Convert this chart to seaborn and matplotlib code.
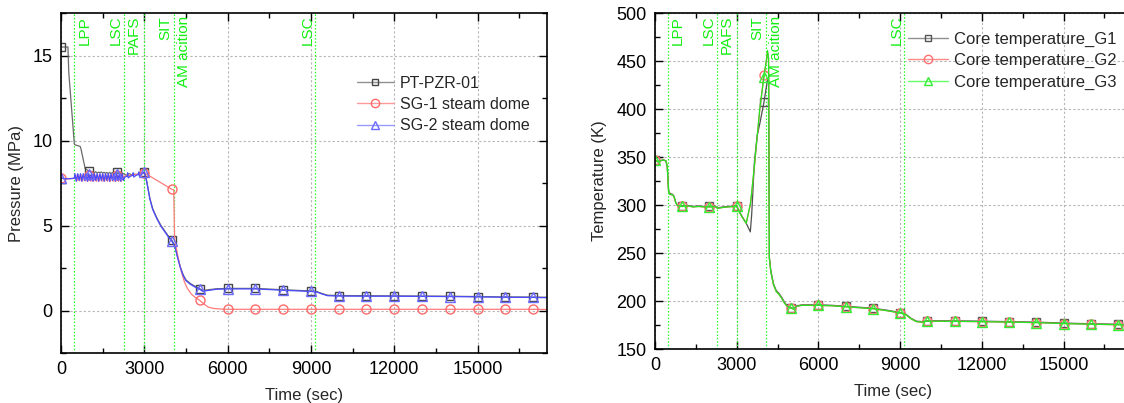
import numpy as np
import matplotlib
matplotlib.use("Agg")
import matplotlib.pyplot as plt
import matplotlib.transforms as mtransforms
from matplotlib.lines import Line2D
from matplotlib.ticker import MultipleLocator
import seaborn as sns

# ---------------- data ----------------
# Left panel: pressure (MPa) vs time (s)
t_pzr = [0, 250, 280, 480, 500, 690, 720, 870, 1000, 1100, 1150, 1200, 1250, 1300, 1350,
         1400, 1450, 1500, 1550, 1600, 1650, 1700, 1750, 1800, 1850, 1900, 1950, 2000,
         2050, 2100, 2150, 2200, 2250, 2350, 2450, 2550, 2650, 2750, 2850, 2950, 3000,
         3050, 3100, 3200, 3300, 3450, 3600, 3750, 3900, 4000, 4100, 4200, 4300, 4400,
         4500, 4650, 4800, 5000, 5100, 5300, 5600, 6000, 7000, 8000, 9000, 9200, 9400,
         9600, 10000, 11000, 12000, 13000, 14000, 15000, 16000, 17000, 17500]
p_pzr = [15.5, 15.5, 14.0, 9.8, 9.75, 9.65, 9.5, 8.35, 8.2, 8.12, 8.18, 8.1, 8.16, 8.08, 8.14,
         8.1, 8.15, 8.08, 8.13, 8.07, 8.12, 8.06, 8.12, 8.06, 8.11, 8.05, 8.1, 8.15,
         8.05, 8.1, 8.04, 8.09, 8.05, 7.95, 8.05, 7.98, 8.02, 8.0, 8.05, 8.1, 8.15,
         7.9, 7.5, 6.6, 6.0, 5.45, 5.0, 4.65, 4.3, 4.12, 3.8, 3.15, 2.55, 2.1,
         1.8, 1.6, 1.45, 1.28, 1.17, 1.22, 1.28, 1.3, 1.3, 1.22, 1.15, 1.12, 1.0,
         0.9, 0.88, 0.87, 0.86, 0.85, 0.84, 0.82, 0.8, 0.79, 0.78]

t_sg1 = [0, 100, 300, 480, 500, 525, 575, 625, 675, 725, 775, 825, 875, 925, 975, 1000,
         1025, 1075, 1125, 1175, 1225, 1275, 1325, 1375, 1425, 1475, 1525, 1575, 1625,
         1675, 1725, 1775, 1825, 1875, 1925, 1975, 2000, 2025, 2075, 2125, 2175, 2225,
         2250, 2300, 2500, 2700, 2900, 3000, 4000, 4060, 4090, 4150, 4250, 4350, 4450,
         4550, 4700, 4850, 5000, 5150, 5300, 5500, 5800, 6000, 7000, 8000, 9000, 10000,
         11000, 12000, 13000, 14000, 15000, 16000, 17000, 17500]
p_sg1 = [7.8, 7.75, 7.75, 7.78, 7.78, 7.98, 7.62, 7.98, 7.62, 7.98, 7.62, 7.98, 7.62, 7.98, 7.62, 7.95,
         7.98, 7.6, 7.98, 7.6, 7.98, 7.6, 7.98, 7.6, 7.98, 7.6, 7.98, 7.6, 7.98,
         7.6, 7.98, 7.6, 7.98, 7.6, 7.98, 7.6, 7.95, 7.98, 7.6, 7.98, 7.6, 7.98,
         7.8, 7.9, 7.95, 8.0, 8.05, 8.1, 7.12, 7.1, 4.2, 3.7, 2.85, 2.2, 1.65,
         1.3, 0.95, 0.75, 0.59, 0.38, 0.2, 0.12, 0.08, 0.07, 0.07, 0.07, 0.07, 0.07,
         0.07, 0.07, 0.07, 0.07, 0.07, 0.07, 0.07, 0.06]

t_sg2 = [0, 100, 300, 480, 500, 550, 600, 650, 700, 750, 800, 850, 900, 950, 1000,
         1050, 1100, 1150, 1200, 1250, 1300, 1350, 1400, 1450, 1500, 1550, 1600, 1650,
         1700, 1750, 1800, 1850, 1900, 1950, 2000, 2050, 2100, 2150, 2200, 2250, 2300,
         2380, 2400, 2420, 2500, 2580, 2600, 2620, 2700, 2780, 2800, 2820, 2900, 3000,
         3050, 3100, 3200, 3300, 3450, 3600, 3750, 3900, 4000, 4100, 4200, 4300, 4400,
         4500, 4650, 4800, 5000, 5100, 5300, 5600, 6000, 7000, 8000, 9000, 9200, 9400,
         9600, 10000, 11000, 12000, 13000, 14000, 15000, 16000, 17000, 17500]
p_sg2 = [7.82, 7.75, 7.75, 7.78, 8.05, 7.6, 8.05, 7.65, 8.05, 7.6, 8.05, 7.65, 8.05, 7.6, 8.05,
         7.65, 8.05, 7.6, 8.05, 7.65, 8.05, 7.6, 8.05, 7.65, 8.05, 7.6, 8.05, 7.65,
         8.05, 7.6, 8.05, 7.65, 8.05, 7.6, 8.05, 7.65, 8.05, 7.6, 8.05, 7.65, 7.85,
         7.9, 8.1, 7.8, 7.9, 7.95, 8.1, 7.85, 7.95, 8.0, 8.15, 7.9, 8.0, 8.15,
         7.85, 7.45, 6.55, 5.95, 5.4, 4.95, 4.6, 4.25, 4.06, 3.75, 3.1, 2.5, 2.05,
         1.75, 1.55, 1.4, 1.24, 1.13, 1.18, 1.25, 1.27, 1.27, 1.19, 1.12, 1.09, 0.97,
         0.87, 0.85, 0.84, 0.84, 0.83, 0.82, 0.8, 0.78, 0.77, 0.75]

# Right panel: core temperature (K) vs time (s)
t_core = [0, 100, 200, 300, 400, 450, 500, 550, 650, 700, 760, 820, 900, 1000, 1200, 1400,
          1600, 1800, 2000, 2200, 2300, 2500, 2700, 2900, 3000, 3100, 3200, 3350, 3500,
          3550, 3650, 3750, 3850, 4000, 4100, 4130, 4170, 4200, 4250, 4350, 4450, 4550,
          4650, 4750, 4850, 5000, 5100, 5200, 5400, 5700, 6000, 6500, 7000, 7500, 8000,
          8500, 9000, 9200, 9400, 9600, 9800, 10000, 11000, 12000, 13000, 14000, 15000,
          16000, 17000, 17500]
temp_g1 = [347, 345, 346, 347, 346, 340, 315, 312, 311, 309, 303, 300, 299.5, 299, 299.5, 298.5,
           299, 298.5, 298.5, 299, 297, 298, 298.5, 299, 299, 293, 288, 281, 272,
           290, 345, 372, 385, 407, 425, 430, 432, 245, 232, 218, 211, 208,
           204, 199, 195, 193, 192, 195, 196, 196, 196, 195.5, 194.5, 193.5, 192.5,
           190.5, 188, 186.5, 182, 179, 178.5, 179.5, 179.3, 179, 178.5, 178, 177,
           176.3, 175.8, 175.5]
temp_g2 = [347, 345, 346, 347, 346, 340, 314, 311, 310.5, 308.5, 302.5, 299.5, 299, 298.5, 299, 298,
           298.5, 298, 298, 298.5, 296.5, 297.5, 298, 298.5, 298.5, 292.5, 287.5, 281, 300,
           312, 340, 370, 400, 435, 452, 460, 452, 245, 231, 217, 210, 207,
           203, 198, 194.5, 192.5, 191.5, 194.5, 195.5, 195.5, 195.5, 195, 194, 193, 192,
           190, 187.5, 186, 181.5, 178.5, 178, 179, 178.8, 178.5, 178, 177.5, 176.5,
           175.8, 175.3, 175]
temp_g3 = [347, 345, 346, 347, 346, 340, 314, 311, 310.5, 308.5, 302.5, 299.5, 299, 298.5, 299, 298,
           298.5, 298, 298, 298.5, 296.5, 297.5, 298, 298.5, 298.5, 292.5, 287.5, 281, 301,
           313, 341, 371, 401, 433, 453, 461, 453, 245, 231, 217, 210, 207,
           203, 198, 194.5, 192.5, 191.5, 194.5, 195.5, 195.5, 195.5, 195, 194, 193, 192,
           190, 187.5, 186, 181.5, 178.5, 178, 179, 178.8, 178.5, 178, 177.5, 176.5,
           175.8, 175.3, 175]

# events: (time, label, side)
event_times = [480, 2260, 3000, 4060, 9160]
event_labels = [("LPP", 480, 1), ("LSC", 2260, -1), ("PAFS", 2260, 1),
                ("SIT", 4060, -1), ("AM acition", 4060, 1), ("LSC", 9160, -1)]

left_series = [
    ("PT-PZR-01", t_pzr, p_pzr, "#6a6a6a", "#454545", "s"),
    ("SG-1 steam dome", t_sg1, p_sg1, "#ff7b7b", "#ff6a6a", "o"),
    ("SG-2 steam dome", t_sg2, p_sg2, "#4a4aff", "#6a6aff", "^"),
]
right_series = [
    ("Core temperature_G1", t_core, temp_g1, "#505050", "#555555", "s"),
    ("Core temperature_G2", t_core, temp_g2, "#ff6060", "#ff7070", "o"),
    ("Core temperature_G3", t_core, temp_g3, "#22e622", "#33ee33", "^"),
]
legend_line_colors = {"PT-PZR-01": "#909090", "SG-1 steam dome": "#ff9a9a",
                      "SG-2 steam dome": "#9a9aff", "Core temperature_G1": "#909090",
                      "Core temperature_G2": "#ff8a8a", "Core temperature_G3": "#66ff66"}

# ---------------- style ----------------
sns.set_style("white")
plt.rcParams["font.family"] = ["Liberation Sans", "DejaVu Sans"]

fig = plt.figure(figsize=(11.24, 4.03), dpi=100)
W, H = 1124.0, 403.0
ax1 = fig.add_axes([61 / W, 1 - 353 / H, (547 - 61) / W, (353 - 13) / H])
ax2 = fig.add_axes([655 / W, 1 - 349 / H, (1131.6 - 655) / W, (349 - 13) / H])

EV_COLOR = "#22ff22"
TXT_COLOR = "#11ee11"


def draw_panel(ax, series, ylim, ymaj, ymin_, ylabel, ylabelpad):
    for name, t, v, lc, mc, mk in series:
        t = np.asarray(t, float)
        v = np.asarray(v, float)
        mask = (t % 1000 == 0)
        sns.lineplot(x=t, y=v, ax=ax, estimator=None, sort=False, color=lc, lw=0.9,
                     marker=mk, markevery=mask, markersize=6.5 if mk != "s" else 5.5,
                     mfc="none", mec=mc, mew=1.0)
    ax.set_xlim(0, 17500)
    ax.set_ylim(*ylim)
    ax.xaxis.set_major_locator(MultipleLocator(3000))
    ax.xaxis.set_minor_locator(MultipleLocator(1500))
    ax.yaxis.set_major_locator(MultipleLocator(ymaj))
    ax.yaxis.set_minor_locator(MultipleLocator(ymin_))
    ax.grid(True, which="major", color="#b5b5b5", linestyle=(0, (2, 2)), linewidth=0.8)
    ax.set_axisbelow(True)
    ax.tick_params(which="both", direction="in", top=True, right=True, bottom=True, left=True,
                   colors="black", labelsize=13)
    ax.tick_params(which="major", length=6, width=1.0)
    ax.tick_params(which="minor", length=3.5, width=1.0)
    ax.tick_params(axis="y", pad=6)
    ax.tick_params(axis="x", pad=6)
    for sp in ax.spines.values():
        sp.set_color("black")
        sp.set_linewidth(1.2)
    ax.set_xlabel("Time (sec)", fontsize=12, labelpad=7)
    ax.set_ylabel(ylabel, fontsize=12, labelpad=ylabelpad)
    # events
    for et in event_times:
        ax.axvline(et, color=EV_COLOR, lw=0.9, linestyle=(0, (1.2, 1.5)), zorder=1.5)
    trans = mtransforms.blended_transform_factory(ax.transData, ax.transAxes)
    for lab, et, side in event_labels:
        dx = 7.2 if side > 0 else -5.8
        tr = mtransforms.offset_copy(trans, fig=fig, x=dx, y=-2, units="points")
        ax.text(et, 1.0, lab, transform=tr, rotation=90, ha="center", va="top",
                color=TXT_COLOR, fontsize=11)


draw_panel(ax1, left_series, (-2.5, 17.5), 5, 2.5, "Pressure (MPa)", 6)
draw_panel(ax2, right_series, (150, 500), 50, 25, "Temperature (K)", 7)


def add_legend(ax, series, x, y, hl, fs):
    handles = []
    for name, t, v, lc, mc, mk in series:
        handles.append(Line2D([], [], color=legend_line_colors[name], lw=1.0, marker=mk,
                              markersize=6 if mk != "s" else 5, mfc="none", mec=mc, mew=1.0,
                              label=name))
    ax.legend(handles=handles, loc="upper left", bbox_to_anchor=(x, y),
              bbox_transform=fig.transFigure, frameon=False, borderpad=0, borderaxespad=0,
              handlelength=hl, handletextpad=0.35, labelspacing=0.38, fontsize=fs,
              numpoints=1)


add_legend(ax1, left_series, 356.7 / W, 1 - 76 / H, 2.35, 11.5)
add_legend(ax2, right_series, 908 / W, 1 - 31.5 / H, 2.4, 12)

fig.savefig("out.png", dpi=100)
